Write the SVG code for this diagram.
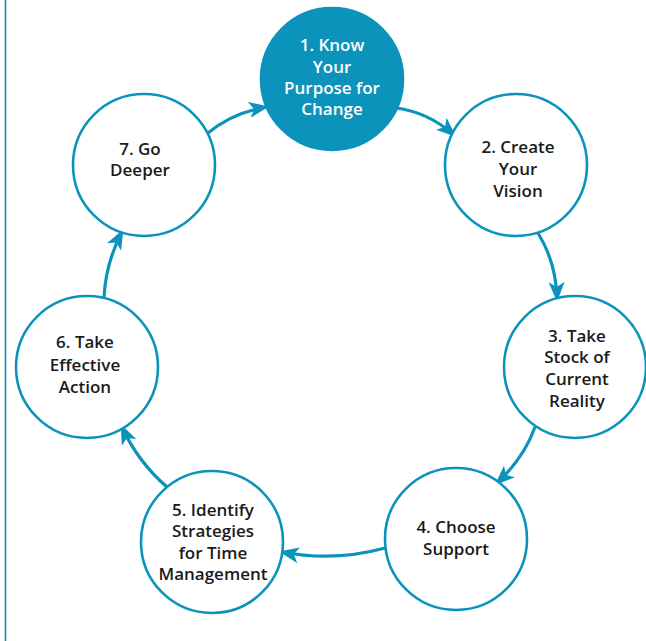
<svg xmlns="http://www.w3.org/2000/svg" width="646" height="641" viewBox="0 0 646 641">
  <style>
    .node circle { fill: #ffffff; stroke: #0b93bb; stroke-width: 2.6; }
    .node.active circle { fill: #0b93bb; }
    .node text { font-family: "Open Sans", "DejaVu Sans", sans-serif; font-size: 17px; font-weight: 600; fill: #1a1a1a; text-anchor: middle; }
    .node.active text { fill: #ffffff; }
    .edge { fill: none; stroke: #0b93bb; stroke-width: 3.2; marker-end: url(#head); }
  </style>
  <defs>
    <marker id="head" viewBox="0 0 20 16" refX="17" refY="8" markerWidth="20" markerHeight="16" markerUnits="userSpaceOnUse" orient="auto">
      <path d="M0,0 L20,8 L0,16 L5,8 Z" fill="#0b93bb"/>
    </marker>
  </defs>

  <!-- frame rule on the left -->
  <line x1="5.5" y1="0" x2="5.5" y2="641" stroke="#0b93bb" stroke-width="1.6"/>

  <!-- cycle connectors -->
  <g id="connectors">
    <path class="edge" d="M208,133 Q232,113 266,107"/>
    <path class="edge" d="M396,108 Q428,112 454,135"/>
    <path class="edge" d="M538,233 Q556,262 557,299"/>
    <path class="edge" d="M535,427 Q524,458 497,483"/>
    <path class="edge" d="M385,548 Q334,562 282,552"/>
    <path class="edge" d="M167,487 Q138,462 122,427"/>
    <path class="edge" d="M104,297 Q106,262 122,232"/>
  </g>

  <g id="node1" class="node active">
    <circle cx="332" cy="79" r="71"/>
    <text x="332" y="51">1. Know</text>
    <text x="332" y="73">Your</text>
    <text x="332" y="94">Purpose for</text>
    <text x="332" y="115">Change</text>
  </g>

  <g id="node2" class="node">
    <circle cx="516" cy="165" r="71"/>
    <text x="518" y="153">2. Create</text>
    <text x="518" y="175">Your</text>
    <text x="518" y="197">Vision</text>
  </g>

  <g id="node3" class="node">
    <circle cx="575" cy="367" r="71"/>
    <text x="577" y="342">3. Take</text>
    <text x="577" y="363">Stock of</text>
    <text x="577" y="385">Current</text>
    <text x="577" y="407">Reality</text>
  </g>

  <g id="node4" class="node">
    <circle cx="456" cy="539" r="71"/>
    <text x="456" y="533">4. Choose</text>
    <text x="456" y="555">Support</text>
  </g>

  <g id="node5" class="node">
    <circle cx="212" cy="542" r="71"/>
    <text x="213" y="516">5. Identify</text>
    <text x="213" y="537">Strategies</text>
    <text x="213" y="559">for Time</text>
    <text x="213" y="580">Management</text>
  </g>

  <g id="node6" class="node">
    <circle cx="87" cy="367" r="71"/>
    <text x="85" y="348">6. Take</text>
    <text x="85" y="371">Effective</text>
    <text x="85" y="393">Action</text>
  </g>

  <g id="node7" class="node">
    <circle cx="144" cy="165" r="71"/>
    <text x="140" y="155">7. Go</text>
    <text x="140" y="176">Deeper</text>
  </g>
</svg>
